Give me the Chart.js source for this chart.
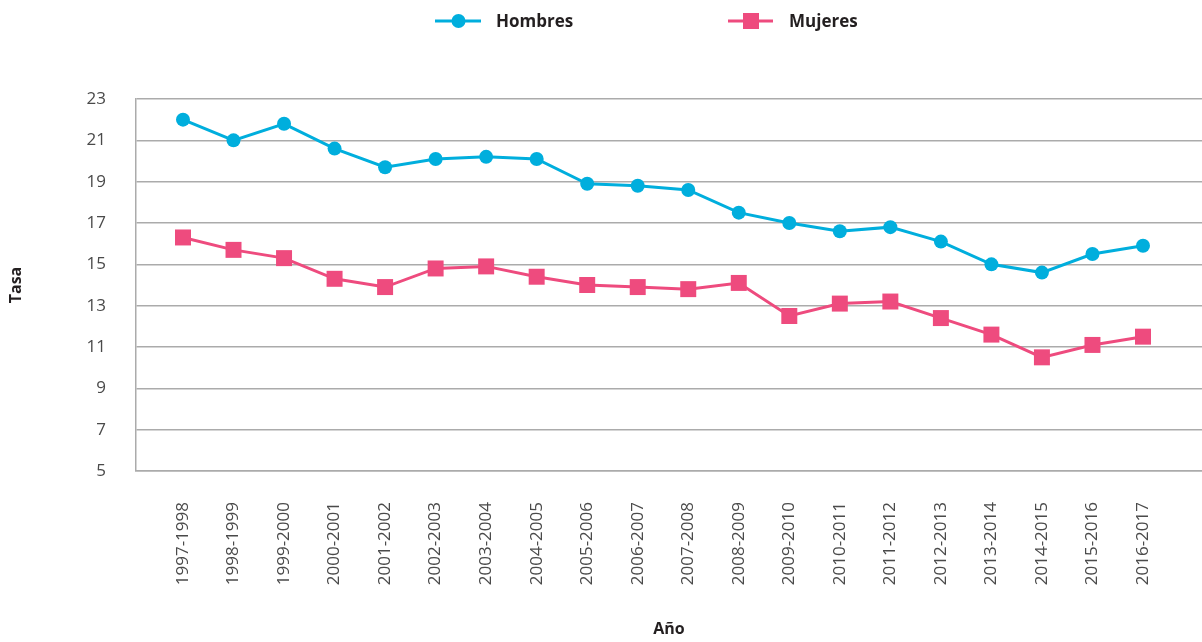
<!DOCTYPE html>
<html>
<head>
<meta charset="utf-8">
<script src="https://cdn.jsdelivr.net/npm/chart.js@4.4.1/dist/chart.umd.min.js"></script>
<style>
  html, body { margin: 0; padding: 0; background: #fff; overflow: hidden; }
  #wrap { width: 1202px; height: 642px; position: relative; }
  #chart { display: block; }
</style>
</head>
<body>
<div id="wrap"><canvas id="chart"></canvas></div>
<script>
var years = ['1997-1998', '1998-1999', '1999-2000', '2000-2001', '2001-2002', '2002-2003', '2003-2004',
  '2004-2005', '2005-2006', '2006-2007', '2007-2008', '2008-2009', '2009-2010', '2010-2011',
  '2011-2012', '2012-2013', '2013-2014', '2014-2015', '2015-2016', '2016-2017'];
var hombres = [22.0, 21.0, 21.8, 20.6, 19.7, 20.1, 20.2, 20.1, 18.9, 18.8, 18.6, 17.5, 17.0, 16.6, 16.8, 16.1, 15.0, 14.6, 15.5, 15.9];
var mujeres = [16.3, 15.7, 15.3, 14.3, 13.9, 14.8, 14.9, 14.4, 14.0, 13.9, 13.8, 14.1, 12.5, 13.1, 13.2, 12.4, 11.6, 10.5, 11.1, 11.5];
var yTicks = [5, 7, 9, 11, 13, 15, 17, 19, 21, 23];

var BLUE = '#00aedd';
var PINK = '#ee4b7e';
var GRID = '#ababab';

function points(vals) {
  return vals.map(function (v, i) { return { x: i, y: v }; });
}

// legend: line + marker, drawn by hand
var legendPlugin = {
  id: 'lineLegend',
  afterDraw: function (chart) {
    var ctx = chart.ctx;
    ctx.save();
    ctx.lineWidth = 3;
    ctx.strokeStyle = BLUE;
    ctx.beginPath(); ctx.moveTo(435, 21); ctx.lineTo(481, 21); ctx.stroke();
    ctx.fillStyle = BLUE;
    ctx.beginPath(); ctx.arc(458.5, 21, 7, 0, Math.PI * 2); ctx.fill();

    ctx.strokeStyle = PINK;
    ctx.beginPath(); ctx.moveTo(728, 21); ctx.lineTo(773, 21); ctx.stroke();
    ctx.fillStyle = PINK;
    ctx.fillRect(743, 13, 16, 16);

    ctx.fillStyle = '#231f20';
    ctx.font = 'bold 17px "Open Sans"';
    ctx.textBaseline = 'middle';
    ctx.fillText('Hombres', 496, 22);
    ctx.fillText('Mujeres', 789, 22);
    ctx.restore();
  }
};

new Chart(document.getElementById('chart'), {
  type: 'line',
  data: {
    datasets: [{
      label: 'Hombres',
      data: points(hombres),
      borderColor: BLUE,
      backgroundColor: BLUE,
      borderWidth: 3,
      pointStyle: 'circle',
      pointRadius: 7,
      pointBorderWidth: 0
    }, {
      label: 'Mujeres',
      data: points(mujeres),
      borderColor: PINK,
      backgroundColor: PINK,
      borderWidth: 3,
      pointStyle: 'rect',
      pointRadius: 11.3,
      pointBorderWidth: 0
    }]
  },
  options: {
    responsive: true,
    maintainAspectRatio: false,
    animation: false,
    layout: { autoPadding: false, padding: { top: 99, right: 0, left: 0, bottom: 0 } },
    plugins: { legend: { display: false }, tooltip: { enabled: false } },
    scales: {
      x: {
        type: 'linear',
        min: -0.93,
        max: 20.168,
        grid: { display: false, drawTicks: false },
        border: { display: true, color: GRID, width: 1.5 },
        afterBuildTicks: function (scale) {
          scale.ticks = years.map(function (y, i) { return { value: i }; });
        },
        afterFit: function (scale) {
          scale.height = 171;
          scale.paddingLeft = 0;
          scale.paddingRight = 0;
        },
        ticks: {
          autoSkip: false,
          minRotation: 90,
          maxRotation: 90,
          padding: 31,
          color: '#4a4a4a',
          font: { family: '"Open Sans"', size: 17 },
          callback: function (v) { return years[v]; }
        },
        title: {
          display: true,
          text: 'Año',
          color: '#231f20',
          font: { family: '"Open Sans"', size: 16, weight: 'bold' },
          padding: { top: 0, bottom: 3 }
        }
      },
      y: {
        min: 5,
        max: 23,
        afterBuildTicks: function (scale) {
          scale.ticks = yTicks.map(function (v) { return { value: v }; });
        },
        afterFit: function (scale) {
          scale.width = 136;
        },
        grid: { color: GRID, lineWidth: 1.5, drawTicks: false },
        border: { display: true, color: GRID, width: 1.5 },
        ticks: {
          padding: 30,
          color: '#4a4a4a',
          font: { family: '"Open Sans"', size: 17 }
        },
        title: {
          display: true,
          text: 'Tasa',
          color: '#231f20',
          font: { family: '"Open Sans"', size: 16, weight: 'bold' },
          padding: { top: 7, bottom: 0 }
        }
      }
    }
  },
  plugins: [legendPlugin]
});
</script>
</body>
</html>
